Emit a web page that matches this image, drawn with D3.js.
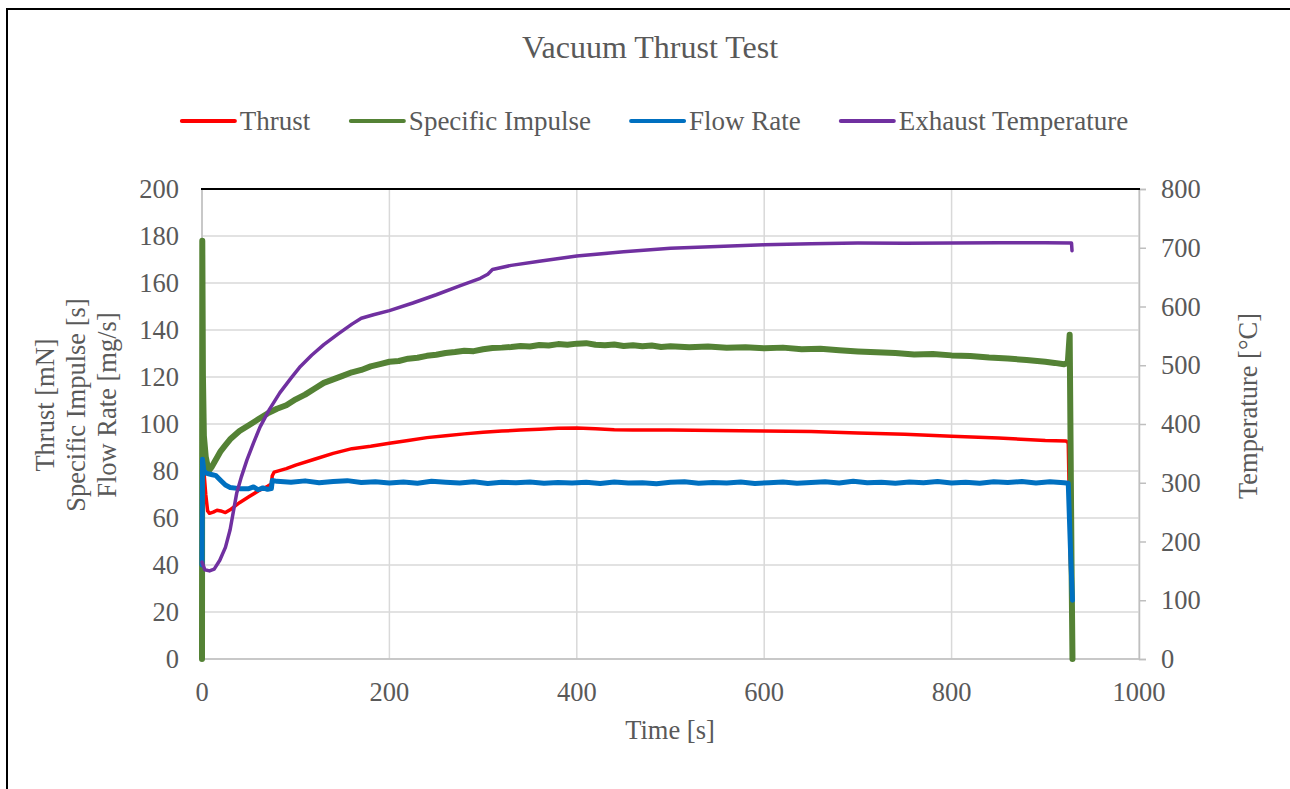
<!DOCTYPE html>
<html lang="en">
<meta charset="utf-8">
<style>
body { margin: 0; background: #fff; overflow: hidden; }
svg { display: block; }
text { font-family: "Liberation Serif", "Times New Roman", serif; fill: #595959; }
.grid line { stroke: #d9d9d9; stroke-width: 1.5; }
.series { fill: none; stroke-linejoin: round; stroke-linecap: round; }
</style>
<body>
<svg width="1290" height="789"></svg>
<script src="https://cdn.jsdelivr.net/npm/d3@7"></script>
<script>

// time [s], value pairs
var thrust = [[0,0],[0.5,40],[1,78],[2,80],[4,70],[6,63],[8,62],[12,62.5],[16,63.3],[20,63],[25,62.3],[30,63.5],
  [40,66.5],[50,69],[60,71.5],[70,73.5],[74,74.5],[75,78],[77,79.5],[90,81],[100,82.5],[120,85],[140,87.5],
  [160,89.5],[180,90.5],[200,91.8],[220,93],[240,94.2],[260,95],[280,95.8],[300,96.5],[320,97],[340,97.4],
  [360,97.8],[380,98.2],[400,98.3],[420,98],[440,97.6],[460,97.4],[500,97.4],[550,97.2],[600,97],[650,96.8],
  [700,96.2],[750,95.6],[800,94.8],[850,94],[900,93],[922,92.8],[924.5,92],[926,60],[929,0]];

var specificImpulse = [[0,0],[0.3,178],[1,120],[2,95],[4,86],[6,82],[8,80.5],[10,81.5],[15,85],[20,88.5],[25,91],
  [30,93.5],[40,97],[50,99.5],[60,102],[70,104.5],[80,106.5],[90,108],[100,110.5],[110,112.5],[120,115],
  [130,117.5],[140,119],[150,120.5],[160,122],[170,123],[180,124.5],[190,125.5],[200,126.5],[210,126.8],
  [220,127.8],[230,128.2],[240,129],[250,129.5],[260,130.2],[270,130.6],[280,131.2],[290,131],[300,131.8],
  [310,132.3],[320,132.5],[330,132.8],[340,133.2],[350,133],[360,133.6],[370,133.4],[380,134],[390,133.7],
  [400,134.2],[410,134.4],[420,133.7],[430,133.5],[440,133.8],[450,133.2],[460,133.5],[470,133.1],[480,133.4],
  [490,132.8],[500,133.1],[520,132.7],[540,133],[560,132.4],[580,132.7],[600,132.2],[620,132.5],[640,131.8],
  [660,132],[680,131.4],[700,130.9],[720,130.5],[740,130.2],[760,129.6],[780,129.8],[800,129.2],[820,128.9],
  [840,128.3],[860,127.9],[880,127.2],[900,126.5],[910,126],[920,125.4],[924,126],[926,138],[927,90],
  [928,40],[929,0]];

var flowRate = [[0,40],[0.5,85],[2,80],[5,79],[10,78.5],[15,78],[20,76],[25,74],[30,73],[40,72.5],[50,72.5],
  [55,73.2],[60,72],[65,72.8],[70,72.2],[74,72.5],[75,76],[80,75.6],[95,75.2],[110,75.8],[125,75],[140,75.5],
  [155,75.9],[170,75.1],[185,75.4],[200,74.9],[215,75.3],[230,74.8],[245,75.6],[260,75.2],[275,74.9],
  [290,75.4],[305,74.7],[320,75.2],[335,75],[350,75.3],[365,74.8],[380,75.1],[395,74.9],[410,75.2],
  [425,74.7],[440,75.3],[455,74.9],[470,75],[485,74.6],[500,75.2],[515,75.4],[530,74.8],[545,75.1],
  [560,74.9],[575,75.3],[590,74.7],[605,75],[620,75.3],[635,74.8],[650,75.1],[665,75.4],[680,74.9],
  [695,75.6],[710,75],[725,75.2],[740,74.8],[755,75.3],[770,75],[785,75.5],[800,74.9],[815,75.2],
  [830,74.8],[845,75.4],[860,75.1],[875,75.5],[890,74.9],[905,75.4],[920,75],[924.5,74.8],[927,45],[929,25]];

var exhaustTemperature = [[0,165],[3,152],[8,150],[13,153],[19,168],[25,190],[30,220],[37,282],[42,310],
  [48,339],[55,368],[62,395],[72,425],[83,453],[95,478],[105,498],[117,517],[130,535],[145,553],[160,570],
  [170,580],[183,586],[200,593],[225,606],[250,620],[275,635],[297,648],[305,655],[310,663],[330,670],
  [360,677],[400,686],[450,693],[500,699],[550,702],[600,705],[650,707],[700,708],[750,707.5],[800,708],
  [850,708.5],[900,708.5],[928,708],[928.5,695]];

var seriesNames = ["Thrust", "Specific Impulse", "Flow Rate", "Exhaust Temperature"];
var seriesColors = ["#ff0000", "#548235", "#0070c0", "#7030a0"];
var seriesWidths = [3.5, 6, 5, 3.5];

var xTicks = [0, 200, 400, 600, 800, 1000];
var yLeftTicks = d3.range(0, 201, 20);
var yRightTicks = d3.range(0, 801, 100);

var svg = d3.select("svg");

var x = d3.scaleLinear().domain([0, 1000]).range([202, 1139]);
var yL = d3.scaleLinear().domain([0, 200]).range([659, 189]);
var yR = d3.scaleLinear().domain([0, 800]).range([659, 189]);

// outer chart border
svg.append("rect")
    .attr("x", 7).attr("y", 9)
    .attr("width", 1310).attr("height", 820)
    .attr("fill", "none").attr("stroke", "#000").attr("stroke-width", 2);

// gridlines
var grid = svg.append("g").attr("class", "grid");
grid.selectAll(".h").data(yLeftTicks).enter().append("line")
    .attr("x1", x(0)).attr("x2", x(1000))
    .attr("y1", function(d) { return yL(d); })
    .attr("y2", function(d) { return yL(d); });
grid.selectAll(".v").data(xTicks).enter().append("line")
    .attr("y1", yL(0)).attr("y2", yL(200))
    .attr("x1", function(d) { return x(d); })
    .attr("x2", function(d) { return x(d); });

// axes lines
svg.append("line").attr("x1", x(0)).attr("x2", x(0)).attr("y1", yL(0)).attr("y2", yL(200))
    .attr("stroke", "#bfbfbf").attr("stroke-width", 1.5);
svg.append("line").attr("x1", x(0)).attr("x2", x(1000)).attr("y1", yL(0)).attr("y2", yL(0))
    .attr("stroke", "#bfbfbf").attr("stroke-width", 1.5);

var rightAxis = svg.append("g")
    .attr("transform", "translate(" + x(1000) + ",0)")
    .call(d3.axisRight(yR).tickValues(yRightTicks).tickSize(7).tickFormat(""));
rightAxis.selectAll("path, line").attr("stroke", "#bfbfbf").attr("stroke-width", 1.5);

svg.append("line").attr("x1", x(0) - 1).attr("x2", x(1000) + 1).attr("y1", yL(200)).attr("y2", yL(200))
    .attr("stroke", "#000").attr("stroke-width", 2);

// tick labels
svg.append("g").selectAll("text").data(yLeftTicks).enter().append("text")
    .attr("x", 179).attr("y", function(d) { return yL(d); })
    .attr("dy", "0.34em").attr("text-anchor", "end").attr("font-size", 26.5)
    .text(function(d) { return d; });
svg.append("g").selectAll("text").data(yRightTicks).enter().append("text")
    .attr("x", 1161).attr("y", function(d) { return yR(d); })
    .attr("dy", "0.34em").attr("text-anchor", "start").attr("font-size", 26.5)
    .text(function(d) { return d; });
svg.append("g").selectAll("text").data(xTicks).enter().append("text")
    .attr("x", function(d) { return x(d); }).attr("y", 701)
    .attr("text-anchor", "middle").attr("font-size", 26.5)
    .text(function(d) { return d; });

// titles
svg.append("text").attr("x", 650).attr("y", 58).attr("text-anchor", "middle")
    .attr("font-size", 32).text("Vacuum Thrust Test");
svg.append("text").attr("x", 670).attr("y", 739).attr("text-anchor", "middle")
    .attr("font-size", 26.5).text("Time [s]");

var leftTitle = svg.append("text")
    .attr("transform", "translate(0,405) rotate(-90)")
    .attr("text-anchor", "middle").attr("font-size", 26.5);
["Thrust [mN]", "Specific Impulse [s]", "Flow Rate [mg/s]"].forEach(function(s, i) {
  leftTitle.append("tspan").attr("x", 0).attr("y", 54 + i * 31).text(s);
});
svg.append("text")
    .attr("transform", "translate(1257,406) rotate(-90)")
    .attr("text-anchor", "middle").attr("font-size", 26.5)
    .text("Temperature [°C]");

// series
svg.append("clipPath").attr("id", "plot").append("rect")
    .attr("x", x(0) - 3).attr("y", yL(200)).attr("width", x(1000) - x(0) + 3).attr("height", yL(0) - yL(200) + 3);

var lineL = d3.line().x(function(d) { return x(d[0]); }).y(function(d) { return yL(d[1]); });
var lineR = d3.line().x(function(d) { return x(d[0]); }).y(function(d) { return yR(d[1]); });

var plot = svg.append("g").attr("clip-path", "url(#plot)");
[thrust, specificImpulse, flowRate].forEach(function(data, i) {
  plot.append("path").datum(data).attr("class", "series")
      .attr("stroke", seriesColors[i]).attr("stroke-width", seriesWidths[i])
      .attr("d", lineL);
});
plot.append("path").datum(exhaustTemperature).attr("class", "series")
    .attr("stroke", seriesColors[3]).attr("stroke-width", seriesWidths[3])
    .attr("d", lineR);

// legend
var legend = svg.append("g");
var lx = 0;
var items = legend.selectAll("g").data(seriesNames).enter().append("g");
items.append("line").attr("x1", 0).attr("x2", 53).attr("y1", 0).attr("y2", 0)
    .attr("stroke", function(d, i) { return seriesColors[i]; })
    .attr("stroke-width", 4).attr("stroke-linecap", "round");
items.append("text").attr("x", 58).attr("y", 9).attr("font-size", 27)
    .text(function(d) { return d; });
items.each(function() {
  var w = this.getBBox().width;
  d3.select(this).attr("transform", "translate(" + lx + ",0)");
  lx += w + 40;
});
var total = lx - 40;
legend.attr("transform", "translate(" + (655 - total / 2) + ",121)");

</script>
</body>
</html>
